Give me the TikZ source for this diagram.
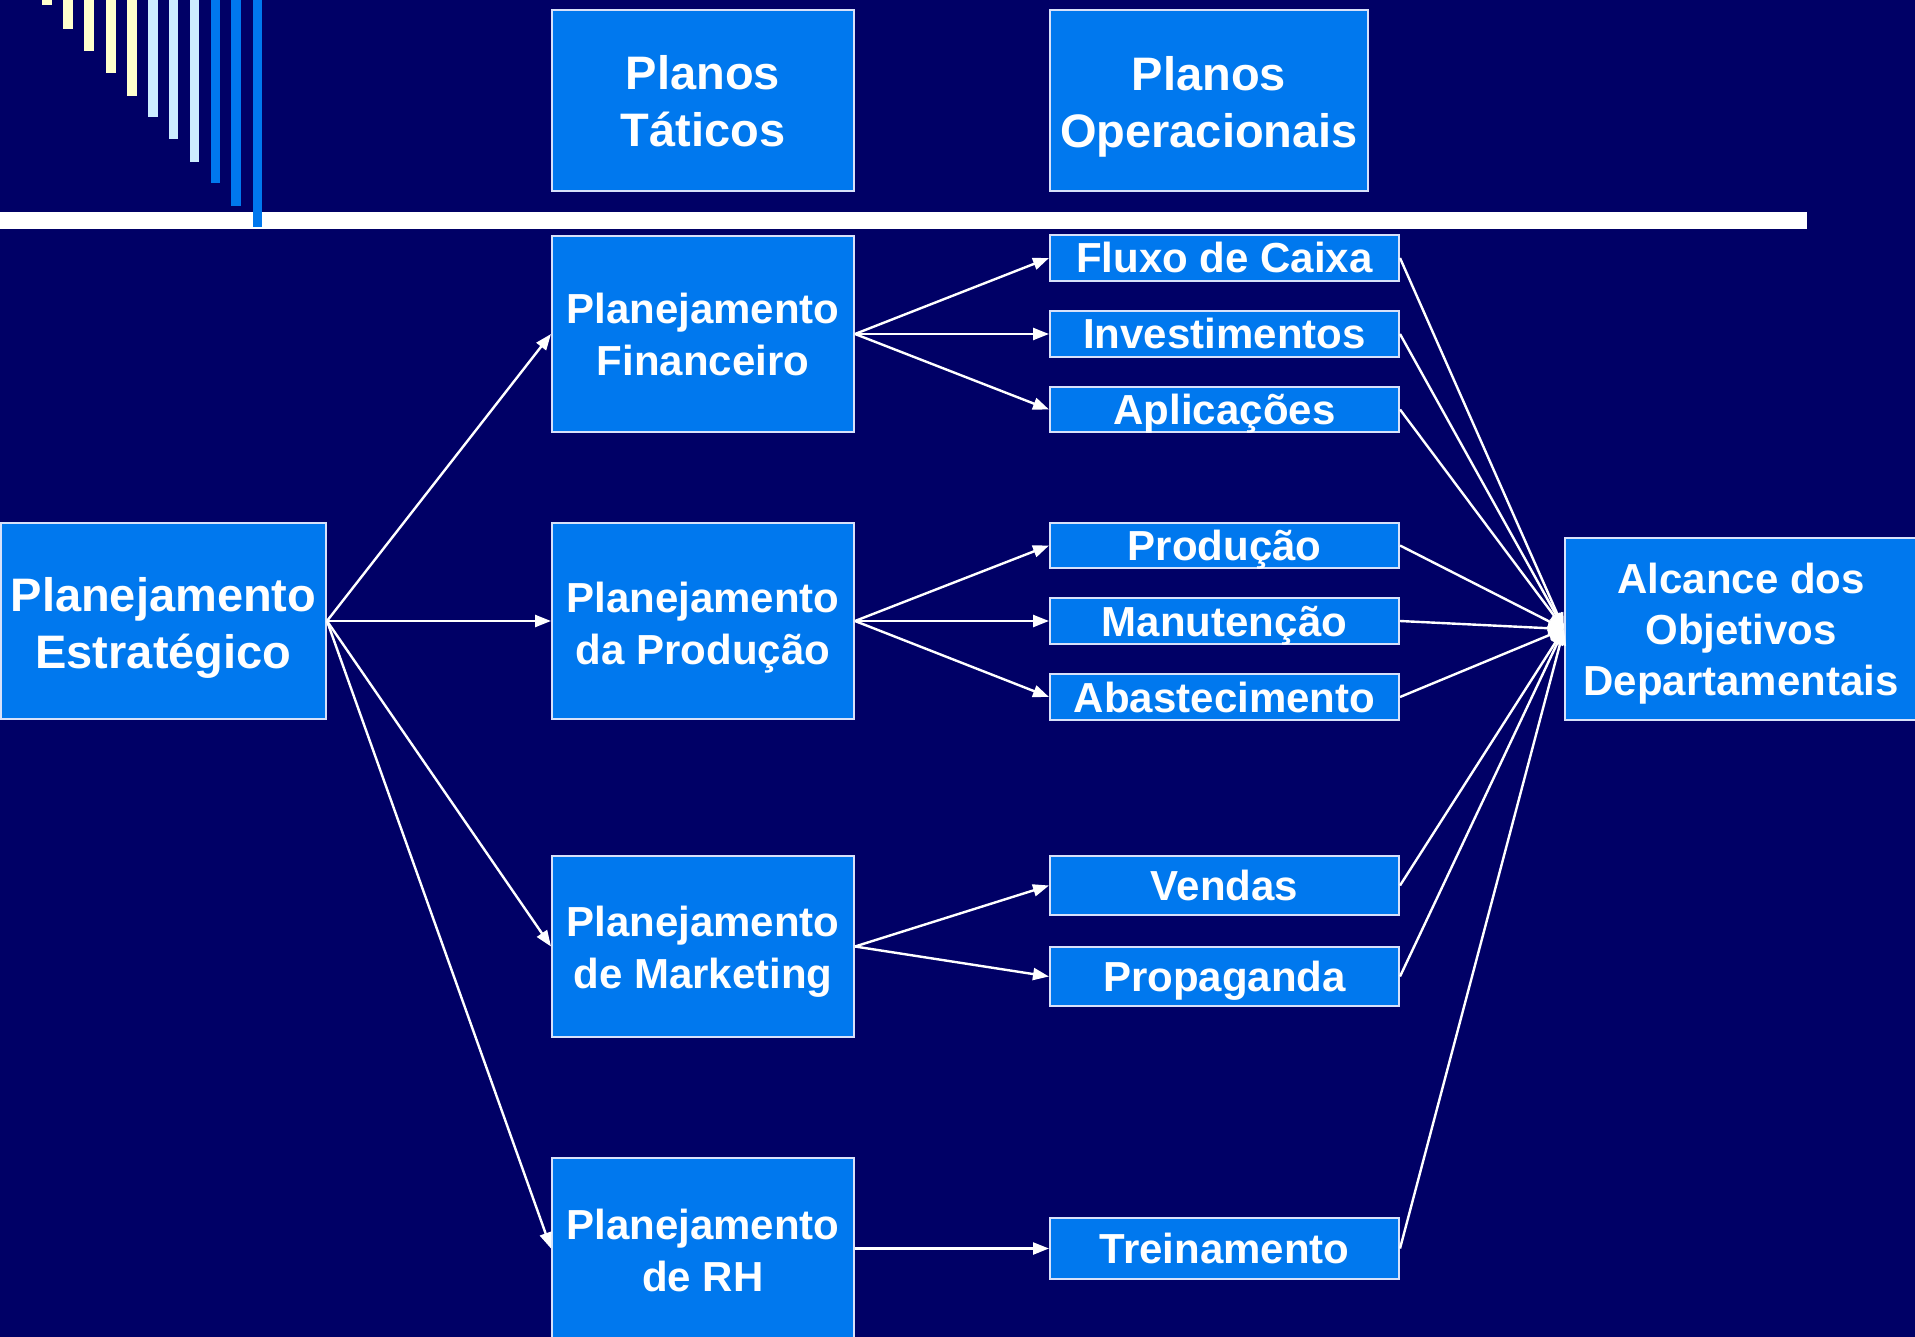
\documentclass[tikz,border=0pt]{standalone}
\usepackage{fontspec}
\setmainfont{Liberation Sans}
\usetikzlibrary{arrows.meta}
\definecolor{bg}{RGB}{0,0,102}
\definecolor{boxblue}{RGB}{0,120,238}
\definecolor{boxline}{RGB}{215,225,250}
\definecolor{stripeY}{RGB}{255,255,204}
\definecolor{stripeL}{RGB}{204,236,255}
\definecolor{stripeB}{RGB}{0,120,238}
\tikzset{
  box/.style={draw=boxline, line width=2pt, fill=boxblue, inner sep=0pt},
  txt/.style={inner sep=0pt, text=white, align=center},
  bigtxt/.style={txt, font=\fontsize{47}{57}\selectfont\bfseries},
  midtxt/.style={txt, font=\fontsize{42}{52}\selectfont\bfseries},
  smallbox/.style={box, text=white, minimum width=349pt, text height=30pt, text depth=0pt, font=\fontsize{42}{50}\selectfont\bfseries},
  conn/.style={draw=white, line width=2.4pt, -{Triangle[length=16pt,width=12pt]}}
}
\begin{document}
\begin{tikzpicture}[x=1pt,y=-1pt]
\fill[bg] (0,0) rectangle (1915,1337);
\useasboundingbox (0,0) rectangle (1915,1337);
% decorative stripes
\fill[stripeY] (42,0) rectangle (52,5);
\fill[stripeY] (63,0) rectangle (73,29);
\fill[stripeY] (84,0) rectangle (94,51);
\fill[stripeY] (106,0) rectangle (116,73);
\fill[stripeY] (127,0) rectangle (137,96);
\fill[stripeL] (148,0) rectangle (158,117);
\fill[stripeL] (169,0) rectangle (178,139);
\fill[stripeL] (190,0) rectangle (199,162);
\fill[stripeB] (211,0) rectangle (220,183);
\fill[stripeB] (231,0) rectangle (241,206);
% white bar
\fill[white] (0,212) rectangle (1807,229);
\fill[stripeB] (253,0) rectangle (262,227);
% header boxes
\node[box, minimum width=302pt, minimum height=181pt] (tat) at (703,100.5) {};
\node[bigtxt, yshift=-1pt] (tatt) at (tat.center) {Planos\\Táticos};
\node[box, minimum width=318pt, minimum height=181pt] (ope) at (1209,100.5) {};
\node[bigtxt, yshift=-6pt] (opet) at (ope.center) {Planos\\Operacionais};
% strategic
\node[box, minimum width=325pt, minimum height=196pt] (est) at (163.5,621) {};
\node[bigtxt, yshift=-7pt] (estt) at (est.center) {Planejamento\\Estratégico};
% tactical
\node[box, minimum width=302pt, minimum height=196pt] (fin) at (703,334) {};
\node[midtxt, yshift=0pt] (fint) at (fin.center) {Planejamento\\Financeiro};
\node[box, minimum width=302pt, minimum height=196pt] (prd) at (703,621) {};
\node[midtxt, yshift=-7pt] (prdt) at (prd.center) {Planejamento\\da Produção};
\node[box, minimum width=302pt, minimum height=181pt] (mkt) at (703,946.5) {};
\node[midtxt, yshift=-5pt] (mktt) at (mkt.center) {Planejamento\\de Marketing};
\node[box, minimum width=302pt, minimum height=181pt] (rh) at (703,1248.5) {};
\node[midtxt, yshift=-2pt] (rht) at (rh.center) {Planejamento\\de RH};
% operational
\node[smallbox, minimum height=46pt] (fc) at (1224.5,258) {Fluxo de Caixa};
\node[smallbox, minimum height=46pt] (inv) at (1224.5,334) {Investimentos};
\node[smallbox, minimum height=45pt] (apl) at (1224.5,409.5) {Aplicações};
\node[smallbox, minimum height=45pt] (pro) at (1224.5,545.5) {Produção};
\node[smallbox, minimum height=46pt] (man) at (1224.5,621) {Manutenção};
\node[smallbox, minimum height=46pt] (aba) at (1224.5,697) {Abastecimento};
\node[smallbox, minimum height=59pt] (ven) at (1224.5,885.5) {Vendas};
\node[smallbox, minimum height=59pt] (pgd) at (1224.5,976.5) {Propaganda};
\node[smallbox, minimum height=61pt] (tre) at (1224.5,1248.5) {Treinamento};
% goal
\node[box, minimum width=352pt, minimum height=182pt] (alc) at (1741,629) {};
\node[txt, font=\fontsize{42}{51}\selectfont\bfseries, yshift=-5pt] (alct) at (alc.center) {Alcance dos\\Objetivos\\Departamentais};
\coordinate (goal) at (alc.west);
% connectors
\draw[conn] (est.east) -- (fin.west);
\draw[conn] (est.east) -- (prd.west);
\draw[conn] (est.east) -- (mkt.west);
\draw[conn] (est.east) -- (rh.west);
\draw[conn] (fin.east) -- (fc.west);
\draw[conn] (fin.east) -- (inv.west);
\draw[conn] (fin.east) -- (apl.west);
\draw[conn] (prd.east) -- (pro.west);
\draw[conn] (prd.east) -- (man.west);
\draw[conn] (prd.east) -- (aba.west);
\draw[conn] (mkt.east) -- (ven.west);
\draw[conn] (mkt.east) -- (pgd.west);
\draw[conn] (rh.east) -- (tre.west);
\foreach \s in {fc,inv,apl,pro,man,aba,ven,pgd,tre}{
  \draw[conn] (\s.east) -- (goal);
}
\end{tikzpicture}
\end{document}
